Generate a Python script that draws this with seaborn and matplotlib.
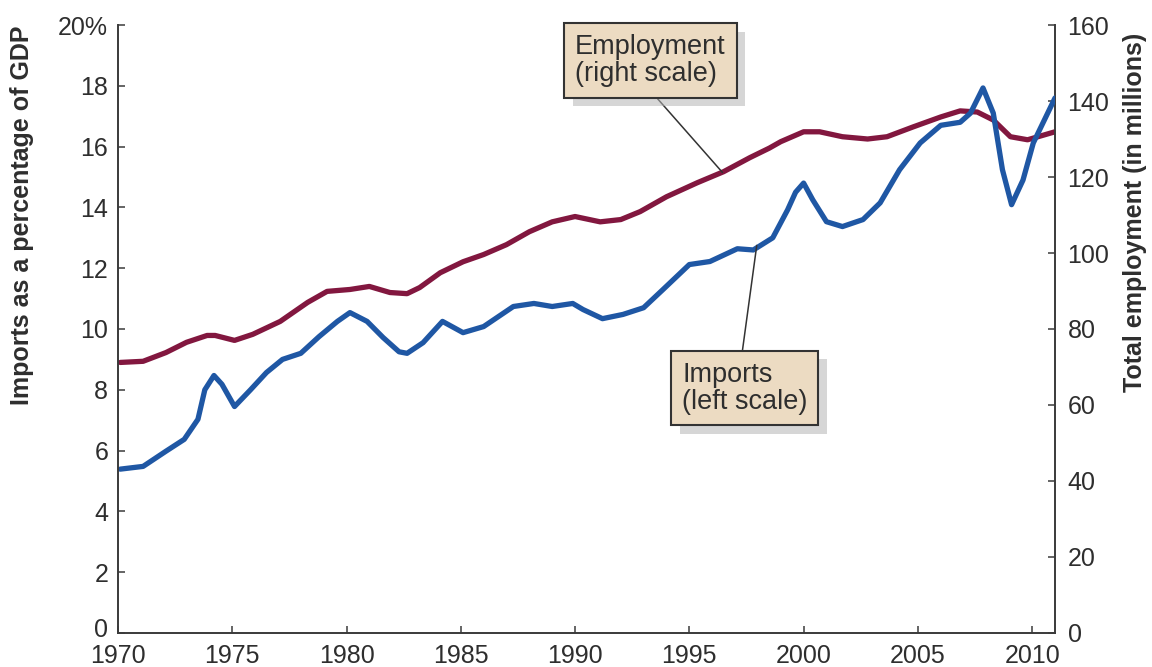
import matplotlib
matplotlib.use("Agg")
import matplotlib.pyplot as plt
import matplotlib.patheffects as pe
from matplotlib.transforms import ScaledTranslation
import seaborn as sns
import pandas as pd

# ---- data ----
imp_years = [1970.1, 1971.1, 1972.1, 1972.9, 1973.5, 1973.8, 1974.2, 1974.55, 1975.1,
             1975.8, 1976.5, 1977.2, 1978.0, 1978.8, 1979.6, 1980.15, 1980.9, 1981.6,
             1982.3, 1982.65, 1983.35, 1984.2, 1985.1, 1986.0, 1987.3, 1988.2, 1989.0,
             1989.9, 1990.35, 1991.2, 1992.1, 1993.0, 1993.85, 1995.0, 1995.9, 1997.1,
             1997.8, 1998.65, 1999.3, 1999.65, 2000.0, 2000.4, 2001.0, 2001.7, 2002.6,
             2003.35, 2004.2, 2005.1, 2006.0, 2006.85, 2007.3, 2007.85, 2008.3, 2008.7,
             2009.1, 2009.6, 2010.05, 2011.0]
imp_vals = [5.39, 5.48, 5.98, 6.37, 7.03, 8.0, 8.47, 8.18, 7.45,
            8.0, 8.57, 9.0, 9.2, 9.75, 10.25, 10.54, 10.25, 9.72,
            9.25, 9.2, 9.55, 10.25, 9.88, 10.08, 10.74, 10.84, 10.74,
            10.84, 10.64, 10.34, 10.48, 10.7, 11.3, 12.12, 12.22, 12.64,
            12.6, 13.0, 13.92, 14.5, 14.8, 14.25, 13.53, 13.37, 13.6,
            14.15, 15.24, 16.12, 16.7, 16.8, 17.1, 17.93, 17.1, 15.24,
            14.09, 14.9, 16.12, 17.6]

emp_years = [1970.1, 1971.1, 1972.1, 1973.0, 1973.9, 1974.25, 1975.1, 1975.9, 1977.1,
             1978.3, 1979.15, 1980.15, 1981.0, 1981.9, 1982.65, 1983.2, 1984.1, 1985.1,
             1986.0, 1987.0, 1988.0, 1989.0, 1990.0, 1991.1, 1992.0, 1992.85, 1994.0,
             1995.35, 1996.5, 1997.65, 1998.5, 1999.0, 2000.0, 2000.7, 2001.7, 2002.8,
             2003.65, 2004.8, 2006.0, 2006.85, 2007.6, 2008.3, 2009.05, 2009.8, 2011.0]
emp_vals = [71.2, 71.5, 73.8, 76.5, 78.3, 78.3, 77.0, 78.6, 82.0,
            87.0, 89.9, 90.4, 91.2, 89.6, 89.3, 90.9, 94.8, 97.7,
            99.6, 102.2, 105.6, 108.2, 109.6, 108.2, 108.8, 110.9, 114.8,
            118.5, 121.4, 125.1, 127.6, 129.3, 131.9, 131.9, 130.6, 130.0,
            130.6, 133.2, 135.8, 137.4, 137.1, 135.0, 130.6, 129.8, 131.9]

x_ticks = [1970, 1975, 1980, 1985, 1990, 1995, 2000, 2005, 2010]
left_ticks = [0, 2, 4, 6, 8, 10, 12, 14, 16, 18, 20]
left_labels = ["0", "2", "4", "6", "8", "10", "12", "14", "16", "18", "20%"]
right_ticks = [0, 20, 40, 60, 80, 100, 120, 140, 160]
right_labels = ["0", "20", "40", "60", "80", "100", "120", "140", "160"]

imports_df = pd.DataFrame({"year": imp_years, "imports": imp_vals})
employ_df = pd.DataFrame({"year": emp_years, "employment": emp_vals})

# ---- style ----
sns.set_style("ticks")
plt.rcParams["font.family"] = ["Liberation Sans", "DejaVu Sans"]
TXT = "#2e2e2e"
AXC = "#3a3a3a"
BLUE = "#1f57a4"
MAROON = "#82173f"

fig = plt.figure(figsize=(11.52, 6.67), dpi=100)
ax = fig.add_axes([0.1024, 0.051, 0.8134, 0.9115])
ax2 = ax.twinx()
ax.set_zorder(2)
ax2.set_zorder(1)
ax.patch.set_visible(False)

sns.lineplot(data=employ_df, x="year", y="employment", ax=ax2, color=MAROON,
             linewidth=3.8, estimator=None, solid_capstyle="round", solid_joinstyle="round")
sns.lineplot(data=imports_df, x="year", y="imports", ax=ax, color=BLUE,
             linewidth=3.8, estimator=None, solid_capstyle="round", solid_joinstyle="round")

ax.set_xlim(1970, 2011)
ax.set_ylim(0, 20)
ax2.set_ylim(0, 160)
ax.set_xticks(x_ticks)
ax.set_xticklabels([str(t) for t in x_ticks])
ax.set_yticks(left_ticks)
ax.set_yticklabels(left_labels)
ax2.set_yticks(right_ticks)
ax2.set_yticklabels(right_labels)
ax.set_xlabel("")
ax.set_ylabel("")
ax2.set_ylabel("")

for a in (ax, ax2):
    a.spines["top"].set_visible(False)
    for s in a.spines.values():
        s.set_color(AXC)
        s.set_linewidth(1.4)
ax2.spines["left"].set_visible(False)
ax2.spines["bottom"].set_visible(False)
ax.spines["right"].set_visible(False)

ax.tick_params(axis="both", direction="in", length=5, width=1.1, color=AXC,
               labelsize=18, labelcolor=TXT)
ax.tick_params(axis="y", pad=7)
ax.tick_params(axis="x", pad=8)
ax2.tick_params(axis="y", direction="in", length=5, width=1.1, color=AXC,
                labelsize=18, labelcolor=TXT, pad=9)

# nudge the bottom-left "0" up a little so it clears "1970"
zero_lbl = ax.get_yticklabels()[0]
zero_lbl.set_transform(zero_lbl.get_transform() +
                       ScaledTranslation(0, 4 / 72, fig.dpi_scale_trans))

fig.text(22 / 1152, 1 - 215 / 667, "Imports as a percentage of GDP", rotation=90,
         ha="center", va="center", fontsize=18, fontweight="bold", color=TXT)
fig.text(1135 / 1152, 1 - 212 / 667, "Total employment (in millions)", rotation=90,
         ha="center", va="center", fontsize=18, fontweight="bold", color=TXT)

box_kw = dict(boxstyle="square,pad=0.4", fc="#ecdbc2", ec="#333333", lw=1.5)
shadow = [pe.withSimplePatchShadow(offset=(6, -6), shadow_rgbFace="#b5b5b5", alpha=0.55)]

a1 = ax.annotate("Employment\n(right scale)", xy=(1996.45, 15.15), xytext=(1990.0, 19.7),
                 textcoords="data", ha="left", va="top", fontsize=19.5, color=TXT,
                 linespacing=1.05, bbox=box_kw, zorder=10,
                 arrowprops=dict(arrowstyle="-", color="#333333", lw=1.1,
                                 relpos=(0.48, 0.0), shrinkA=0, shrinkB=0))
a1.get_bbox_patch().set_path_effects(shadow)

a2 = ax.annotate("Imports\n(left scale)", xy=(1997.95, 12.75), xytext=(1994.68, 8.93),
                 textcoords="data", ha="left", va="top", fontsize=19.5, color=TXT,
                 linespacing=1.05, bbox=box_kw, zorder=10,
                 arrowprops=dict(arrowstyle="-", color="#333333", lw=1.1,
                                 relpos=(0.47, 1.0), shrinkA=0, shrinkB=0))
a2.get_bbox_patch().set_path_effects(shadow)

fig.savefig("out.png", dpi=100)
